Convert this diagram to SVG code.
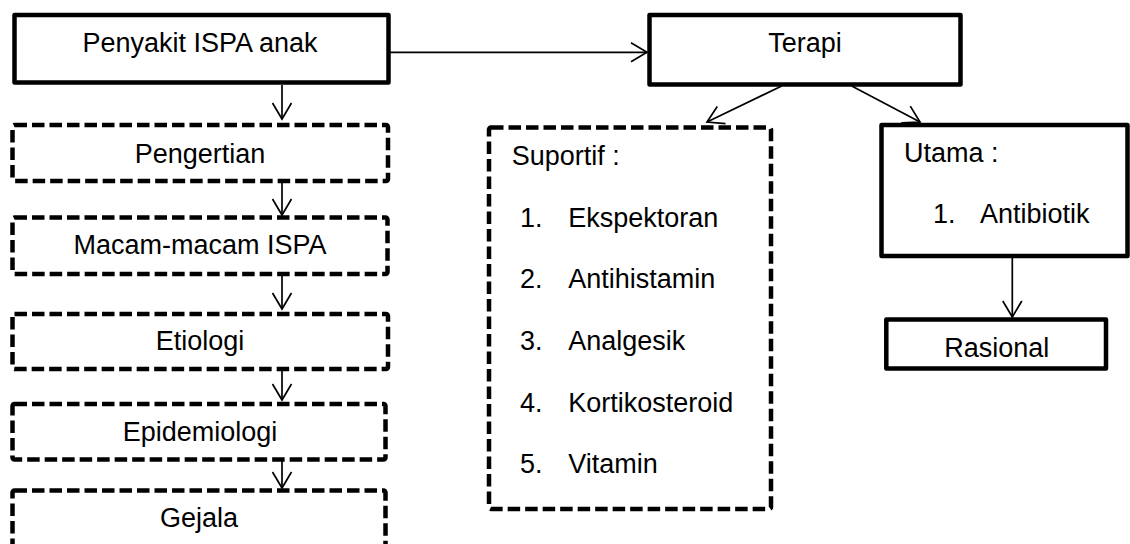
<svg xmlns="http://www.w3.org/2000/svg" width="1130" height="544" viewBox="0 0 1130 544">
<style>
  text { font-family: "Liberation Sans", Arial, sans-serif; font-size: 27px; fill: #000; }
  .c { text-anchor: middle; }
  .solid { fill: #fff; stroke: #000; stroke-width: 4.5; stroke-linejoin: round; }
  .dash { fill: #fff; stroke: #000; stroke-width: 4.5; stroke-dasharray: 12.5 5; stroke-linejoin: round; }
  .conn { fill: none; stroke: #000; stroke-width: 1.7; marker-end: url(#arr); }
</style>
<defs>
  <marker id="arr" markerUnits="userSpaceOnUse" markerWidth="22" markerHeight="24" viewBox="-19 -12 22 24" refX="0" refY="0" orient="auto" overflow="visible">
    <path d="M-16,-9.5 L0,0 L-16,9.5" fill="none" stroke="#000" stroke-width="1.7"/>
  </marker>
</defs>
<rect width="1130" height="544" fill="#fff"/>

<g id="connectors">
  <line class="conn" x1="390" y1="52.3" x2="647" y2="52.3"/>
  <line class="conn" x1="282" y1="85" x2="282" y2="119"/>
  <line class="conn" x1="282" y1="183" x2="282" y2="215"/>
  <line class="conn" x1="282" y1="276" x2="282" y2="309"/>
  <line class="conn" x1="282" y1="371" x2="282" y2="400"/>
  <line class="conn" x1="282" y1="455" x2="282" y2="488"/>
  <line class="conn" x1="781.7" y1="86" x2="707" y2="122"/>
  <line class="conn" x1="851.7" y1="86" x2="920" y2="122"/>
  <line class="conn" x1="1012.3" y1="257" x2="1012.3" y2="317"/>
</g>

<g id="penyakit">
  <rect class="solid" x="14.5" y="15" width="374" height="67.5"/>
  <text class="c" x="200" y="52">Penyakit ISPA anak</text>
</g>

<g id="pengertian">
  <rect class="dash" x="12.5" y="125" width="375.5" height="56" rx="2"/>
  <text class="c" x="200" y="163">Pengertian</text>
</g>

<g id="macam">
  <rect class="dash" x="12.5" y="217.5" width="375" height="56.5" rx="2"/>
  <text class="c" x="200" y="254.3">Macam-macam ISPA</text>
</g>

<g id="etiologi">
  <rect class="dash" x="12.5" y="314" width="375.5" height="55" rx="2"/>
  <text class="c" x="200" y="350">Etiologi</text>
</g>

<g id="epidemiologi">
  <rect class="dash" x="12.5" y="404" width="373" height="55.5" rx="2"/>
  <text class="c" x="200" y="440.7">Epidemiologi</text>
</g>

<g id="gejala">
  <rect class="dash" x="12.5" y="490.5" width="373" height="80" rx="2"/>
  <text class="c" x="199" y="526.7">Gejala</text>
</g>

<g id="terapi">
  <rect class="solid" x="649.5" y="15" width="311" height="69.5"/>
  <text class="c" x="805" y="51.7">Terapi</text>
</g>

<g id="suportif">
  <rect class="dash" x="489" y="127.5" width="282" height="381.5" rx="2"/>
  <text x="511.7" y="165">Suportif :</text>
  <text x="520" y="226.7">1.</text><text x="568.3" y="226.7">Ekspektoran</text>
  <text x="520" y="288.3">2.</text><text x="568.3" y="288.3">Antihistamin</text>
  <text x="520" y="350">3.</text><text x="568.3" y="350">Analgesik</text>
  <text x="520" y="411.7">4.</text><text x="568.3" y="411.7">Kortikosteroid</text>
  <text x="520" y="473.3">5.</text><text x="568.3" y="473.3">Vitamin</text>
</g>

<g id="utama">
  <rect class="solid" x="881.5" y="125" width="246" height="131"/>
  <text x="904" y="161.7">Utama :</text>
  <text x="933" y="223">1.</text><text x="980" y="223">Antibiotik</text>
</g>

<g id="rasional">
  <rect class="solid" x="886.3" y="319.5" width="219.7" height="49"/>
  <text class="c" x="996.7" y="356.7">Rasional</text>
</g>
</svg>
